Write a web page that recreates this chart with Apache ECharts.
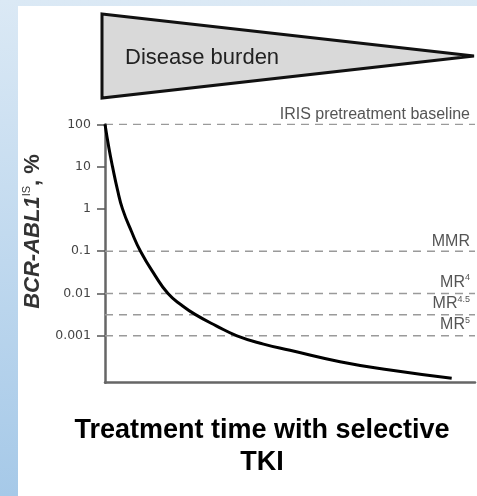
<!DOCTYPE html>
<html>
<head>
<meta charset="utf-8">
<style>
  html, body { margin: 0; padding: 0; background: #fff; }
  #chart { width: 477px; height: 496px; }
</style>
<script src="https://cdn.jsdelivr.net/npm/echarts@6/dist/echarts.min.js"></script>
</head>
<body>
<div id="chart"></div>
<script>
// Molecular response curve: BCR-ABL1 transcript level (log scale) over treatment time
const timePoints = [0, 1.05, 2.03, 3.38, 4.73, 7.16, 9.59, 13.51, 17.03, 20.74, 24.46, 30.07, 35.68, 42.84, 50, 63.51, 77.03, 93.7];
const bcrAbl1Levels = [100, 27.7, 10, 2.82, 1, 0.292, 0.1, 0.0269, 0.01, 0.00526, 0.00316, 0.00172, 0.001, 0.000637, 0.000454, 0.000244, 0.000155, 0.0000989];

// Response thresholds drawn as dashed reference lines
const thresholdValues = [100, 0.1, 0.01, 0.00316, 0.001];
const thresholdLabels = ['IRIS pretreatment baseline', 'MMR', '{t|MR}{s|4}', '{t|MR}{s|4.5}', '{t|MR}{s|5}'];
const timeRange = [0, 100];

// Y-axis ticks
const tickValues = [0.001, 0.01, 0.1, 1, 10, 100];
const tickLabels = ['0.001', '0.01', '0.1', '1', '10', '100'];

// Disease-burden wedge (x: time, y: relative half-height)
const burdenX = [0, 100, 0];
const burdenY = [1, 0, -1];

const chart = echarts.init(document.getElementById('chart'), null, { renderer: 'canvas' });

const labelFont = 'Liberation Sans, Arial, sans-serif';

function tickLabelFor(v) {
  let best = 0, bestD = Infinity;
  tickValues.forEach((t, i) => {
    const d = Math.abs(Math.log10(t) - Math.log10(v));
    if (d < bestD) { bestD = d; best = i; }
  });
  return bestD < 0.01 ? tickLabels[best] : '';
}

// One dashed series per threshold, labelled at its right end
const thresholdSeries = thresholdValues.map((v, i) => ({
  type: 'line', xAxisIndex: 0, yAxisIndex: 0, silent: true,
  data: timeRange.map((t) => [t, v]),
  showSymbol: false, z: 3,
  lineStyle: { color: '#9a9a9a', width: 1.5, type: [8, 6] },
  endLabel: {
    show: true,
    formatter: thresholdLabels[i],
    align: 'right', verticalAlign: 'bottom',
    distance: 0, offset: [-5, -2],
    fontFamily: labelFont, fontSize: 16, color: '#555',
    rich: {
      t: { fontFamily: labelFont, fontSize: 16, color: '#555', lineHeight: 18 },
      s: { fontFamily: labelFont, fontSize: 9, color: '#555', verticalAlign: 'top' }
    }
  }
}));

const option = {
  animation: false,
  graphic: [
    {
      type: 'rect', z: -10, silent: true,
      shape: { x: 0, y: 0, width: 477, height: 496 },
      style: {
        fill: new echarts.graphic.LinearGradient(0, 0, 0, 1, [
          { offset: 0, color: '#dbe9f5' },
          { offset: 1, color: '#a6c9e8' }
        ])
      }
    },
    {
      type: 'rect', z: -9, silent: true,
      shape: { x: 18, y: 6, width: 459, height: 490 },
      style: { fill: '#ffffff' }
    },
    {
      type: 'text', z: 10, silent: true,
      style: {
        x: 125, y: 58, text: 'Disease burden',
        font: '22px ' + labelFont, fill: '#222',
        verticalAlign: 'middle', align: 'left'
      }
    }
  ],
  title: {
    text: 'Treatment time with selective\nTKI',
    left: 262, top: 415, padding: 0,
    textAlign: 'center',
    textStyle: {
      fontFamily: labelFont, fontSize: 27, fontWeight: 'bold',
      color: '#000', lineHeight: 32
    }
  },
  grid: [
    { left: 105, right: 2, top: 124.3, bottom: 113.3 },
    { left: 102, right: 3, top: 14, bottom: 398 }
  ],
  xAxis: [
    {
      type: 'value', gridIndex: 0, min: 0, max: 100,
      axisLine: { show: true, lineStyle: { color: '#666', width: 2.5 } },
      axisTick: { show: false }, axisLabel: { show: false }, splitLine: { show: false }
    },
    {
      type: 'value', gridIndex: 1, min: 0, max: 100, show: false
    }
  ],
  yAxis: [
    {
      type: 'log', gridIndex: 0, logBase: 10,
      min: 0.0000778, max: 100,
      axisLine: { show: true, onZero: false, lineStyle: { color: '#666', width: 2.5 } },
      axisTick: {
        show: true, length: 8, customValues: tickValues,
        lineStyle: { color: '#555', width: 1.5 }
      },
      axisLabel: {
        show: true, customValues: tickValues, margin: 14,
        fontFamily: 'DejaVu Sans, sans-serif', fontSize: 12.5, color: '#444',
        formatter: (v) => tickLabelFor(v)
      },
      splitLine: { show: false },
      name: '{a|BCR-ABL1}{s|IS}{b|, %}',
      nameLocation: 'middle', nameRotate: 90, nameGap: 55,
      nameTextStyle: {
        padding: [0, 0, 0, 44],
        rich: {
          a: { fontFamily: labelFont, fontSize: 22, fontWeight: 'bold', fontStyle: 'italic', color: '#333', lineHeight: 24 },
          s: { fontFamily: labelFont, fontSize: 11, color: '#333', verticalAlign: 'top' },
          b: { fontFamily: labelFont, fontSize: 22, fontWeight: 'bold', color: '#333', lineHeight: 24 }
        }
      }
    },
    {
      type: 'value', gridIndex: 1, min: -1, max: 1, show: false
    }
  ],
  series: [
    {
      type: 'custom', xAxisIndex: 1, yAxisIndex: 1, silent: true,
      data: [0],
      renderItem: (params, api) => {
        const pts = burdenX.map((x, i) => api.coord([x, burdenY[i]]));
        return {
          type: 'polygon',
          shape: { points: pts },
          style: { fill: '#d9d9d9', stroke: '#111', lineWidth: 3, lineJoin: 'miter', miterLimit: 2 }
        };
      }
    },
    ...thresholdSeries,
    {
      type: 'line', xAxisIndex: 0, yAxisIndex: 0, silent: true,
      data: timePoints.map((t, i) => [t, bcrAbl1Levels[i]]),
      smooth: 0.5, showSymbol: false,
      lineStyle: { color: '#000', width: 3 },
      z: 5
    }
  ]
};

chart.setOption(option);
</script>
</body>
</html>
